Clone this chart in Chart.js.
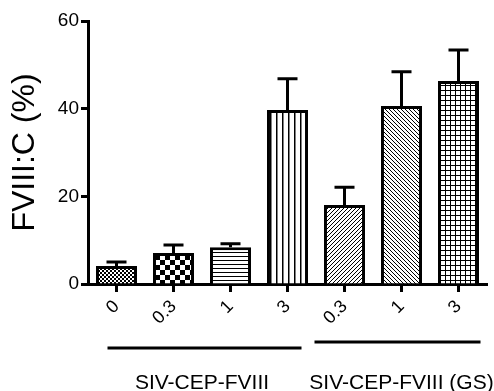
<!DOCTYPE html>
<html>
<head>
<meta charset="utf-8">
<script src="https://cdn.jsdelivr.net/npm/chart.js@4/dist/chart.umd.min.js"></script>
<style>
  html, body { margin: 0; padding: 0; background: #fff; }
</style>
</head>
<body>
<canvas id="chart" width="494" height="391"></canvas>
<script>
const doseLabels = ["0", "0.3", "1", "3", "0.3", "1", "3"];
const fviiiMeans = [4.1, 7.1, 8.4, 39.7, 18.0, 40.6, 46.3];
const fviiiErrors = [0.9, 1.8, 0.8, 7.1, 4.1, 7.8, 7.1];
const groupNames = ["SIV-CEP-FVIII", "SIV-CEP-FVIII (GS)"];
const groupStart = [0, 4];
const groupEnd = [3, 6];
const yTicks = [0, 20, 40, 60];

const FONT = "'Liberation Sans', Arial, Helvetica, sans-serif";

// small tiles used as bar fills
const makePattern = (size, draw) => {
  const c = document.createElement("canvas");
  c.width = size;
  c.height = size;
  const g = c.getContext("2d");
  g.fillStyle = "#fff";
  g.fillRect(0, 0, size, size);
  g.fillStyle = "#000";
  g.strokeStyle = "#000";
  draw(g, size);
  return g.createPattern(c, "repeat");
};

const checker = (cell) => (g, s) => {
  g.fillRect(0, 0, cell, cell);
  g.fillRect(cell, cell, cell, cell);
};

const ctx = document.getElementById("chart").getContext("2d");
const fills = [
  makePattern(4, checker(2)),
  makePattern(10, checker(5)),
  makePattern(4, (g, s) => g.fillRect(0, 0, s, 1)),
  makePattern(6, (g, s) => g.fillRect(0, 0, 1.5, s)),
  makePattern(4, (g, s) => {
    g.lineWidth = 1;
    g.beginPath();
    g.moveTo(-1, s + 1); g.lineTo(s + 1, -1);
    g.moveTo(-1, 1); g.lineTo(1, -1);
    g.moveTo(s - 1, s + 1); g.lineTo(s + 1, s - 1);
    g.stroke();
  }),
  makePattern(4, (g, s) => {
    g.lineWidth = 1;
    g.beginPath();
    g.moveTo(-1, -1); g.lineTo(s + 1, s + 1);
    g.moveTo(s - 1, -1); g.lineTo(s + 1, 1);
    g.moveTo(-1, s - 1); g.lineTo(1, s + 1);
    g.stroke();
  }),
  makePattern(5, (g, s) => {
    g.fillRect(0, 0, s, 1);
    g.fillRect(0, 0, 1, s);
  }),
];

const errorBars = {
  id: "errorBars",
  afterDatasetsDraw(chart) {
    const { ctx: c, scales: { x, y } } = chart;
    c.save();
    c.strokeStyle = "#000";
    c.lineWidth = 3;
    fviiiMeans.forEach((m, i) => {
      const px = x.getPixelForValue(i);
      const top = y.getPixelForValue(m + fviiiErrors[i]);
      c.beginPath();
      c.moveTo(px, y.getPixelForValue(m));
      c.lineTo(px, top);
      c.moveTo(px - 10, top);
      c.lineTo(px + 10, top);
      c.stroke();
    });
    c.restore();
  },
};

const groupLabels = {
  id: "groupLabels",
  afterDraw(chart) {
    const { ctx: c, scales: { x } } = chart;
    const insets = [[9, 14], [30, 22]];
    const lineY = [348, 342];
    c.save();
    c.strokeStyle = "#000";
    c.lineWidth = 3;
    c.fillStyle = "#000";
    c.font = "21px " + FONT;
    c.textAlign = "center";
    c.textBaseline = "middle";
    groupNames.forEach((name, i) => {
      const a = x.getPixelForValue(groupStart[i]);
      const b = x.getPixelForValue(groupEnd[i]);
      c.beginPath();
      c.moveTo(a - insets[i][0], lineY[i]);
      c.lineTo(b + insets[i][1], lineY[i]);
      c.stroke();
      c.fillText(name, (a + b) / 2, 383);
    });
    c.restore();
  },
};

new Chart(ctx, {
  type: "bar",
  data: {
    labels: doseLabels,
    datasets: [
      {
        data: fviiiMeans,
        backgroundColor: fills,
        borderColor: "#000",
        borderWidth: 3,
        borderSkipped: "bottom",
        barPercentage: 0.72,
        categoryPercentage: 1,
      },
    ],
  },
  options: {
    responsive: false,
    animation: false,
    layout: { padding: { top: 21, right: 7, left: 0, bottom: 0 } },
    plugins: { legend: { display: false }, tooltip: { enabled: false } },
    scales: {
      x: {
        afterFit: (scale) => { scale.height = 107; },
        border: { display: true, color: "#000", width: 3 },
        grid: {
          offset: false,
          drawOnChartArea: false,
          tickLength: 8,
          tickWidth: 3,
          tickColor: "#000",
        },
        ticks: {
          color: "#000",
          font: { family: FONT, size: 18 },
          minRotation: 45,
          maxRotation: 45,
          padding: 4,
        },
      },
      y: {
        min: 0,
        max: 60,
        afterFit: (scale) => { scale.width = 88; },
        afterBuildTicks: (scale) => {
          scale.ticks = yTicks.map((v) => ({ value: v }));
        },
        border: { display: true, color: "#000", width: 3 },
        grid: {
          drawOnChartArea: false,
          tickLength: 7,
          tickWidth: 3,
          tickColor: "#000",
        },
        ticks: {
          color: "#000",
          font: { family: FONT, size: 19 },
          padding: 2,
        },
        title: {
          display: true,
          text: "FVIII:C (%)",
          color: "#000",
          font: { family: FONT, size: 32 },
          padding: { top: 6, bottom: 0 },
        },
      },
    },
  },
  plugins: [errorBars, groupLabels],
});
</script>
</body>
</html>
